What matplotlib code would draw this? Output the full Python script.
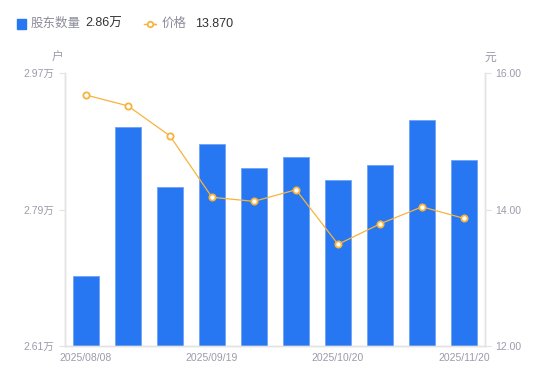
import matplotlib.pyplot as plt
from matplotlib.lines import Line2D
from matplotlib.patches import Rectangle

plt.rcParams['font.family'] = ['Liberation Sans', 'Noto Sans CJK SC', 'DejaVu Sans']

# Data
dates = ["2025/08/08", "2025/08/20", "2025/08/29", "2025/09/19", "2025/09/30",
         "2025/10/10", "2025/10/20", "2025/10/31", "2025/11/10", "2025/11/20"]
holders = [2.702, 2.899, 2.820, 2.876, 2.845, 2.859, 2.829, 2.849, 2.908, 2.855]  # 万户
price = [15.68, 15.52, 15.08, 14.18, 14.12, 14.29, 13.49, 13.79, 14.04, 13.87]
shown_labels = [0, 3, 6, 9]

blue = "#2877F2"
orange = "#F7B33C"
gray = "#9b9bab"
axis_gray = "#e3e3e3"

fig = plt.figure(figsize=(5.5, 3.81), dpi=100)
ax = fig.add_axes([0.118, 0.092, 0.764, 0.716])
ax2 = ax.twinx()

x = list(range(len(dates)))
ax.bar(x, holders, width=0.6, color=blue, edgecolor="#6fa3f5", linewidth=0.6, zorder=2)
ax.set_ylim(2.61, 2.97)
ax.set_xlim(-0.5, len(dates) - 0.5)
ax.set_yticks([2.61, 2.79, 2.97])
ax.set_yticklabels(["2.61万", "2.79万", "2.97万"])
ax.set_xticks([i for i in shown_labels])
ax.set_xticklabels([dates[i] for i in shown_labels])

ax2.plot(x, price, color=orange, linewidth=0.9, marker="o", markersize=4.5,
         markerfacecolor="white", markeredgecolor=orange, markeredgewidth=1.3, zorder=3)
ax2.set_ylim(12, 16)
ax2.set_yticks([12, 14, 16])
ax2.set_yticklabels(["12.00", "14.00", "16.00"])

for a in (ax, ax2):
    for s in a.spines.values():
        s.set_color(axis_gray)
        s.set_linewidth(1)
    a.spines["top"].set_visible(False)
    a.tick_params(colors=axis_gray, labelcolor=gray, labelsize=7.5, length=4, width=0.8)
ax.tick_params(axis="x", length=0, pad=5)
ax2.set_zorder(ax.get_zorder() + 1)
ax2.patch.set_visible(False)

# unit labels
fig.text(0.105, 0.84, "户", color=gray, fontsize=8.5, ha="center")
fig.text(0.892, 0.84, "元", color=gray, fontsize=8.5, ha="center")

# legend
fig.patches.append(Rectangle((0.031, 0.925), 0.016, 0.024, transform=fig.transFigure,
                             color=blue, figure=fig))
fig.text(0.055, 0.937, "股东数量", color="#8c8c9a", fontsize=9, va="center")
fig.text(0.155, 0.937, "2.86万", color="#333333", fontsize=9, va="center")
fig.lines.append(Line2D([0.262, 0.283, 0.2725], [0.937, 0.937, 0.937],
                        transform=fig.transFigure, color=orange, linewidth=1,
                        marker="o", markersize=4, markerfacecolor="white",
                        markeredgecolor=orange, markeredgewidth=1.3,
                        markevery=[2], figure=fig))
fig.text(0.293, 0.937, "价格", color="#8c8c9a", fontsize=9, va="center")
fig.text(0.355, 0.937, "13.870", color="#333333", fontsize=9, va="center")

fig.savefig("out.png", dpi=100)
